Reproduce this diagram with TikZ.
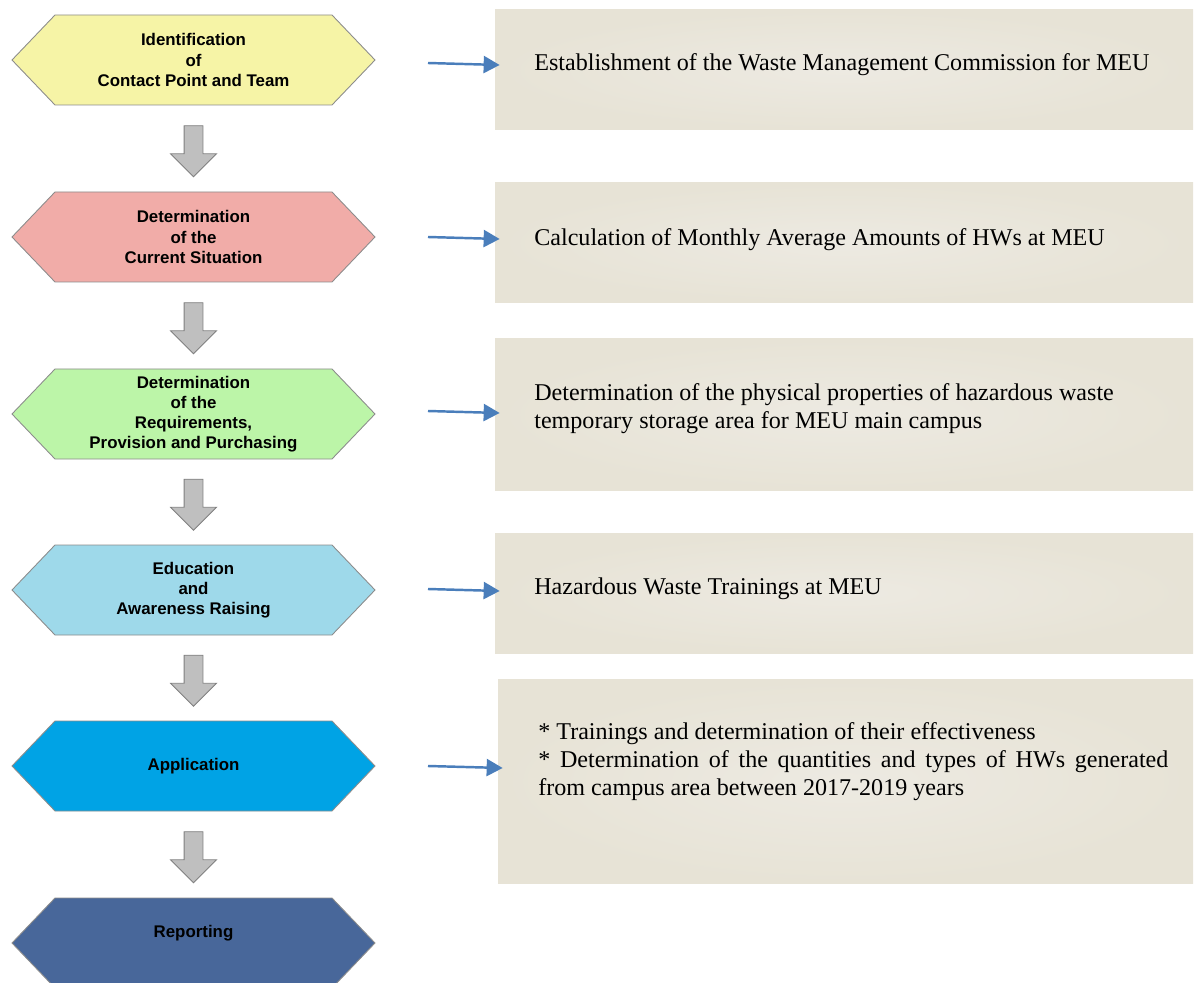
\documentclass[tikz,border=0pt]{standalone}
\usepackage{fontspec}
\setmainfont{Liberation Serif}
\setsansfont{Liberation Sans}
\usepackage{xcolor}
\usepackage{tikz}
\usetikzlibrary{shapes.symbols,shapes.arrows,arrows.meta,calc}

\definecolor{hexyellow}{HTML}{F6F4A6}
\definecolor{hexpink}{HTML}{F1ACA8}
\definecolor{hexgreen}{HTML}{BCF5A8}
\definecolor{hexsky}{HTML}{9ED9EA}
\definecolor{hexblue}{HTML}{00A3E5}
\definecolor{hexnavy}{HTML}{48679A}
\definecolor{boxlight}{HTML}{EDEAE2}
\definecolor{boxdark}{HTML}{E7E3D6}
\definecolor{arrowblue}{HTML}{4A7EBB}

\tikzset{
  hexa/.style={signal, signal to=west and east, signal pointer angle=92.6,
    draw=black!45, line width=0.5pt, inner sep=0pt, align=center,
    minimum width=363*0.02cm, minimum height=90*0.02cm,
    font=\sffamily\bfseries\fontsize{9.6}{11.4}\selectfont},
  downarrow/.style={single arrow, draw=black!50, fill=black!25, line width=0.5pt,
    rotate=-90, inner sep=9*0.02cm, minimum height=51*0.02cm,
    minimum width=45*0.02cm, single arrow head extend=13.5*0.02cm},
  taskbox/.style={inner color=boxlight, outer color=boxdark,
    minimum width=698*0.02cm, minimum height=120*0.02cm},
  tasktext/.style={anchor=west, inner sep=0pt, align=left,
    font=\fontsize{13.7}{15.9}\selectfont},
  bluearrow/.style={draw=arrowblue, line width=1.4pt,
    -{Triangle[length=0.32cm,width=0.34cm]}}
}

\begin{document}
\begin{tikzpicture}[x=0.02cm, y=-0.02cm]
\useasboundingbox (0,0) rectangle (1194,983);

\foreach \i/\yc/\col/\txt in {
	1/60/hexyellow/{Identification\\of\\Contact Point and Team},
	2/237/hexpink/{Determination\\of the\\Current Situation},
	3/414/hexgreen/{Determination\\of the\\Requirements,\\Provision and Purchasing},
	4/590/hexsky/{Education\\and\\Awareness Raising},
	5/766/hexblue/{Application}}{
	\node[hexa, fill=\col] (h\i) at (193.5,\yc) {\txt};
}
\node[hexa, fill=hexnavy, text depth=13.4pt] (h6) at (193.5,943) {Reporting};

\foreach \i [evaluate=\i as \j using int(\i+1)] in {1,...,5}{
	\node[downarrow] (d\i) at ($(h\i.south)!0.5!(h\j.north)+(0,-2)$) {};
}

\node[taskbox] (b1) at (844,70) {};
\node[taskbox] (b2) at (844,243) {};
\node[taskbox, minimum height=151*0.02cm] (b3) at (844,414.5) {};
\node[taskbox] (b4) at (844,593) {};
\node[taskbox, minimum width=695*0.02cm, minimum height=204*0.02cm] (b5) at (845.5,781) {};

\node[tasktext] (t1) at (534,65) {Establishment of the Waste Management Commission for MEU};
\node[tasktext] (t2) at (534,240) {Calculation of Monthly Average Amounts of HWs at MEU};
\node[tasktext] (t3) at (534,409) {Determination of the physical properties of hazardous waste\\temporary storage area for MEU main campus};
\node[tasktext] (t4) at (534,589) {Hazardous Waste Trainings at MEU};
\node[tasktext, text width=630*0.02cm, align=justify] (t5) at (538,762)
	{* Trainings and determination of their effectiveness\\{}* Determination of the quantities and types of HWs generated\linebreak from campus area between 2017-2019 years};

\foreach \i/\ys in {1/63, 2/237, 3/411, 4/589, 5/766}{
	\coordinate (s\i) at (428,\ys);
	\draw[bluearrow] (s\i) -- ($(s\i -| b\i.west)+(5,2)$);
}

\end{tikzpicture}
\end{document}
